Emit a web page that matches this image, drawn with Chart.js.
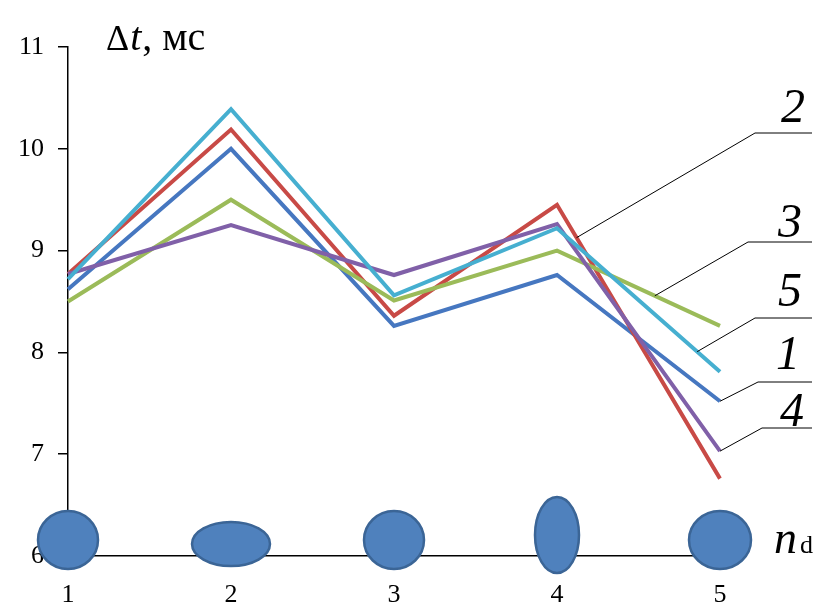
<!DOCTYPE html>
<html>
<head>
<meta charset="utf-8">
<script src="https://cdn.jsdelivr.net/npm/chart.js@4.4.0/dist/chart.umd.min.js"></script>
<style>
  html, body { margin: 0; padding: 0; background: #fff; }
  canvas { display: block; }
</style>
</head>
<body>
<canvas id="chart" width="819" height="603"></canvas>
<script>
// categories (n_d) and the five curves
const categories = ['1', '2', '3', '4', '5'];
const curve1 = [8.62, 10.0, 8.26, 8.76, 7.52];
const curve2 = [8.77, 10.19, 8.36, 9.45, 6.76];
const curve3 = [8.5, 9.5, 8.51, 9.0, 8.26];
const curve4 = [8.77, 9.25, 8.76, 9.26, 7.03];
const curve5 = [8.72, 10.39, 8.56, 9.22, 7.81];
const yTicks = [6, 7, 8, 9, 10, 11];

const curveColors = ['#4677C0', '#C84A46', '#9BBB59', '#8060A8', '#46AFD0'];

// drop shapes drawn under each category (half-axes in px)
const dropShapes = [[30, 29], [39, 22], [30, 29], [22, 38], [31, 29]];

// leader labels: curve index, fraction between points 4 and 5, text pos, shelf
const leaders = [
    { curve: 1, t: 0.12, text: '2', tx: 793, ty: 122, y: 133, x0: 755 },
    { curve: 2, t: 0.60, text: '3', tx: 790, ty: 237, y: 242, x0: 748 },
    { curve: 4, t: 0.86, text: '5', tx: 790, ty: 306, y: 318, x0: 755 },
    { curve: 0, t: 1.00, text: '1', tx: 788, ty: 369, y: 382, x0: 758 },
    { curve: 3, t: 1.00, text: '4', tx: 792, ty: 426, y: 428, x0: 762 }
];

function serif(size, italic) {
    return (italic ? 'italic ' : '') + size + 'px "Liberation Serif", "Times New Roman", serif';
}

const decor = {
    id: 'decor',
    afterDraw(chart) {
        const ctx = chart.ctx;
        const x = chart.scales.x, y = chart.scales.y;
        ctx.save();

        // drops on the axis
        dropShapes.forEach(function (s, i) {
            const cx = x.getPixelForValue(i);
            const cy = y.getPixelForValue(6) - 16 + (i == 1 ? 4 : 0) + (i == 3 ? -5 : 0);
            ctx.beginPath();
            ctx.ellipse(cx, cy, s[0], s[1], 0, 0, Math.PI * 2);
            ctx.fillStyle = '#4F81BD';
            ctx.fill();
            ctx.lineWidth = 2.5;
            ctx.strokeStyle = '#3B6596';
            ctx.stroke();
        });

        // leaders and numbers
        ctx.strokeStyle = '#000';
        ctx.lineWidth = 1;
        ctx.fillStyle = '#000';
        ctx.font = serif(48, true);
        ctx.textAlign = 'center';
        ctx.textBaseline = 'alphabetic';
        leaders.forEach(function (l) {
            const pts = chart.getDatasetMeta(l.curve).data;
            const a = pts[3], b = pts[4];
            const px = a.x + (b.x - a.x) * l.t;
            const py = a.y + (b.y - a.y) * l.t;
            ctx.beginPath();
            ctx.moveTo(px, py);
            ctx.lineTo(l.x0, l.y);
            ctx.lineTo(812, l.y);
            ctx.stroke();
            ctx.fillText(l.text, l.tx, l.ty);
        });

        // axis titles
        ctx.textAlign = 'left';
        let cx = 106;
        ctx.font = serif(36, false);
        ctx.fillText('\u0394', cx, 50);
        cx += ctx.measureText('\u0394').width + 1;
        ctx.font = serif(40, true);
        ctx.fillText('t', cx, 50);
        cx += ctx.measureText('t').width + 1;
        ctx.font = serif(40, false);
        ctx.fillText(', \u043c\u0441', cx, 50);

        ctx.font = serif(46, true);
        ctx.fillText('n', 774, 553);
        ctx.font = serif(26, false);
        ctx.fillText('d', 800, 553);

        ctx.restore();
    }
};

const curves = [curve1, curve2, curve3, curve4, curve5];

new Chart(document.getElementById('chart'), {
    type: 'line',
    data: {
        labels: categories,
        datasets: curves.map(function (c, i) {
            return {
                label: String(i + 1),
                data: c,
                borderColor: curveColors[i],
                borderWidth: 4,
                pointRadius: 0,
                tension: 0,
                fill: false,
                order: 5 - i
            };
        })
    },
    options: {
        responsive: false,
        animation: false,
        devicePixelRatio: 1,
        layout: { padding: { left: 0, top: 47, right: 99, bottom: 0 } },
        plugins: { legend: { display: false }, tooltip: { enabled: false } },
        scales: {
            x: {
                type: 'category',
                offset: false,
                grid: { display: false, drawTicks: false },
                border: { display: true, color: '#000', width: 1.5 },
                ticks: { color: '#000', font: { family: '"Liberation Serif", serif', size: 26 }, padding: 24, maxRotation: 0 },
                afterFit: function (s) { s.height = 47; }
            },
            y: {
                min: 6,
                max: 11,
                afterBuildTicks: function (s) { s.ticks = yTicks.map(function (v) { return { value: v }; }); },
                grid: { drawOnChartArea: false, color: '#000', tickLength: 10, lineWidth: 1.5 },
                border: { display: true, color: '#000', width: 1.5 },
                ticks: { color: '#000', font: { family: '"Liberation Serif", serif', size: 26 }, padding: 14 },
                afterFit: function (s) { s.width = 68; }
            }
        }
    },
    plugins: [decor]
});
</script>
</body>
</html>
